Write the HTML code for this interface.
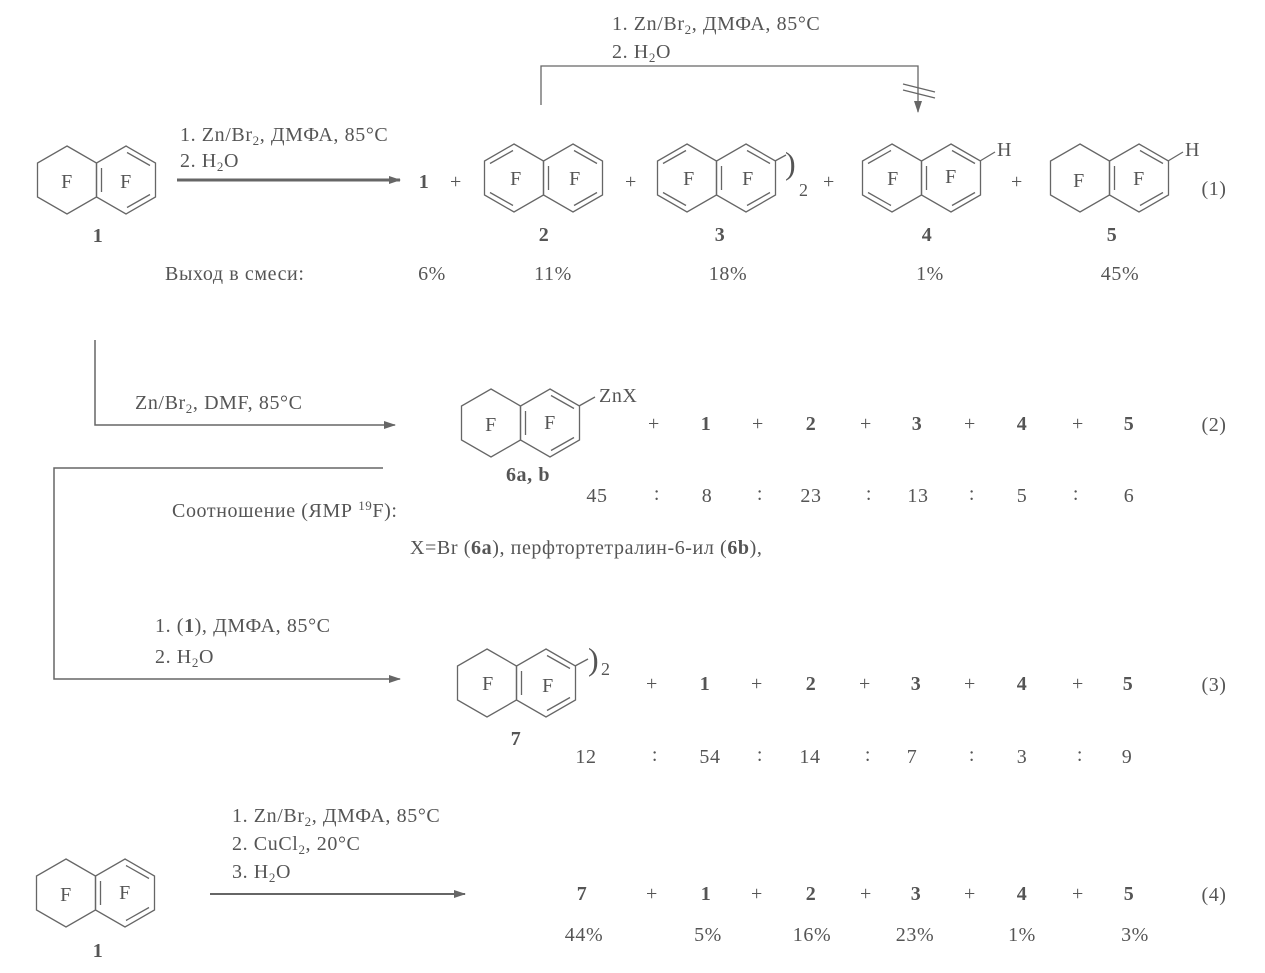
<!DOCTYPE html>
<html><head><meta charset="utf-8"><style>
html,body{margin:0;padding:0;background:#fff;}
svg{display:block;}
text{font-family:"Liberation Serif",serif;fill:#555;font-size:20px;letter-spacing:0.6px;}
.b{font-weight:bold;}
.m{text-anchor:middle;}
</style></head><body>
<svg width="1265" height="973" viewBox="0 0 1265 973" xmlns="http://www.w3.org/2000/svg">
<defs>
<polygon id="hx" points="0,-34 29.5,-17 29.5,17 0,34 -29.5,17 -29.5,-17" fill="none" stroke="#666" stroke-width="1.3"/>
<g id="T">
<use href="#hx"/><use href="#hx" x="59"/>
<g stroke="#666" stroke-width="1.3">
<line x1="34.5" y1="-12" x2="34.5" y2="12"/>
<line x1="60" y1="-27.5" x2="83" y2="-14.5"/>
<line x1="60" y1="27.5" x2="83" y2="14.5"/>
</g>
</g>
<g id="N">
<use href="#T"/>
<g stroke="#666" stroke-width="1.3">
<line x1="-1" y1="-27.5" x2="-24" y2="-14.5"/>
<line x1="-1" y1="27.5" x2="-24" y2="14.5"/>
</g>
</g>
<marker id="ah" markerWidth="12" markerHeight="8" refX="11" refY="4" orient="auto" markerUnits="userSpaceOnUse">
<path d="M0,0 L12,4 L0,8 Z" fill="#666"/>
</marker>
</defs>

<!-- Row 1 -->
<use href="#T" x="67" y="180"/>
<text x="67" y="188" class="m">F</text><text x="126" y="188" class="m">F</text>
<text x="98" y="242" class="m b">1</text>
<line x1="177" y1="180" x2="400" y2="180" stroke="#666" stroke-width="3" marker-end="url(#ah)"/>
<text x="180" y="141">1. Zn/Br<tspan font-size="13" dy="4">2</tspan><tspan dy="-4">, ДМФА, 85°C</tspan></text>
<text x="180" y="167">2. H<tspan font-size="13" dy="4">2</tspan><tspan dy="-4">O</tspan></text>
<text x="424" y="188" class="m b">1</text>
<text x="456" y="188" class="m">+</text>

<use href="#N" x="514" y="178"/>
<text x="516" y="185" class="m">F</text><text x="575" y="185" class="m">F</text>
<text x="544" y="241" class="m b">2</text>
<text x="631" y="188" class="m">+</text>

<use href="#N" x="687" y="178"/>
<text x="689" y="185" class="m">F</text><text x="748" y="185" class="m">F</text>
<line x1="775" y1="161" x2="786" y2="155" stroke="#666" stroke-width="1.3"/>
<text x="785" y="174" style="font-size:32px">)</text><text x="799" y="196" style="font-size:18px">2</text>
<text x="720" y="241" class="m b">3</text>
<text x="829" y="188" class="m">+</text>

<use href="#N" x="892" y="178"/>
<text x="893" y="185" class="m">F</text><text x="951" y="183" class="m">F</text>
<line x1="980" y1="161" x2="995" y2="152" stroke="#666" stroke-width="1.3"/>
<text x="997" y="156">H</text>
<text x="927" y="241" class="m b">4</text>
<text x="1017" y="188" class="m">+</text>

<use href="#T" x="1080" y="178"/>
<text x="1079" y="187" class="m">F</text><text x="1139" y="185" class="m">F</text>
<line x1="1168" y1="161" x2="1183" y2="152" stroke="#666" stroke-width="1.3"/>
<text x="1185" y="156">H</text>
<text x="1112" y="241" class="m b">5</text>
<text x="1214" y="195" class="m">(1)</text>

<text x="165" y="280">Выход в смеси:</text>
<text x="432" y="280" class="m">6%</text>
<text x="553" y="280" class="m">11%</text>
<text x="728" y="280" class="m">18%</text>
<text x="930" y="280" class="m">1%</text>
<text x="1120" y="280" class="m">45%</text>

<polyline points="541,105 541,66 918,66 918,112" fill="none" stroke="#666" stroke-width="1.3" marker-end="url(#ah)"/>
<line x1="903" y1="84" x2="935" y2="92" stroke="#666" stroke-width="1.3"/>
<line x1="903" y1="90" x2="935" y2="98" stroke="#666" stroke-width="1.3"/>
<text x="612" y="30">1. Zn/Br<tspan font-size="13" dy="4">2</tspan><tspan dy="-4">, ДМФА, 85°C</tspan></text>
<text x="612" y="58">2. H<tspan font-size="13" dy="4">2</tspan><tspan dy="-4">O</tspan></text>

<!-- Row 2 -->
<polyline points="95,340 95,425 395,425" fill="none" stroke="#666" stroke-width="1.5" marker-end="url(#ah)"/>
<text x="135" y="409">Zn/Br<tspan font-size="13" dy="4">2</tspan><tspan dy="-4">, DMF, 85°C</tspan></text>
<use href="#T" x="491" y="423"/>
<text x="491" y="431" class="m">F</text><text x="550" y="429" class="m">F</text>
<line x1="579" y1="406" x2="595" y2="397" stroke="#666" stroke-width="1.3"/>
<text x="599" y="402">ZnX</text>
<text x="528" y="481" class="m b">6a, b</text>
<text x="654" y="430" class="m">+</text><text x="706" y="430" class="m b">1</text>
<text x="758" y="430" class="m">+</text><text x="811" y="430" class="m b">2</text>
<text x="866" y="430" class="m">+</text><text x="917" y="430" class="m b">3</text>
<text x="970" y="430" class="m">+</text><text x="1022" y="430" class="m b">4</text>
<text x="1078" y="430" class="m">+</text><text x="1129" y="430" class="m b">5</text>
<text x="1214" y="431" class="m">(2)</text>
<text x="597" y="502" class="m">45</text><text x="657" y="500" class="m">:</text>
<text x="707" y="502" class="m">8</text><text x="760" y="500" class="m">:</text>
<text x="811" y="502" class="m">23</text><text x="869" y="500" class="m">:</text>
<text x="918" y="502" class="m">13</text><text x="972" y="500" class="m">:</text>
<text x="1022" y="502" class="m">5</text><text x="1076" y="500" class="m">:</text>
<text x="1129" y="502" class="m">6</text>
<text x="172" y="517">Соотношение (ЯМР <tspan font-size="13" dy="-7">19</tspan><tspan dy="7">F):</tspan></text>
<text x="410" y="554">X=Br (<tspan class="b">6a</tspan>), перфтортетралин-6-ил (<tspan class="b">6b</tspan>),</text>

<!-- Row 3 -->
<polyline points="383,468 54,468 54,679 400,679" fill="none" stroke="#666" stroke-width="1.5" marker-end="url(#ah)"/>
<text x="155" y="632">1. (<tspan class="b">1</tspan>), ДМФА, 85°C</text>
<text x="155" y="663">2. H<tspan font-size="13" dy="4">2</tspan><tspan dy="-4">O</tspan></text>
<use href="#T" x="487" y="683"/>
<text x="488" y="690" class="m">F</text><text x="548" y="692" class="m">F</text>
<line x1="575" y1="666" x2="588" y2="659" stroke="#666" stroke-width="1.3"/>
<text x="588" y="670" style="font-size:32px">)</text><text x="601" y="675" style="font-size:18px">2</text>
<text x="516" y="745" class="m b">7</text>
<text x="652" y="690" class="m">+</text><text x="705" y="690" class="m b">1</text>
<text x="757" y="690" class="m">+</text><text x="811" y="690" class="m b">2</text>
<text x="865" y="690" class="m">+</text><text x="916" y="690" class="m b">3</text>
<text x="970" y="690" class="m">+</text><text x="1022" y="690" class="m b">4</text>
<text x="1078" y="690" class="m">+</text><text x="1128" y="690" class="m b">5</text>
<text x="1214" y="691" class="m">(3)</text>
<text x="586" y="763" class="m">12</text><text x="655" y="761" class="m">:</text>
<text x="710" y="763" class="m">54</text><text x="760" y="761" class="m">:</text>
<text x="810" y="763" class="m">14</text><text x="868" y="761" class="m">:</text>
<text x="912" y="763" class="m">7</text><text x="972" y="761" class="m">:</text>
<text x="1022" y="763" class="m">3</text><text x="1080" y="761" class="m">:</text>
<text x="1127" y="763" class="m">9</text>

<!-- Row 4 -->
<use href="#T" x="66" y="893"/>
<text x="66" y="901" class="m">F</text><text x="125" y="899" class="m">F</text>
<text x="98" y="957" class="m b">1</text>
<line x1="210" y1="894" x2="465" y2="894" stroke="#666" stroke-width="2" marker-end="url(#ah)"/>
<text x="232" y="822">1. Zn/Br<tspan font-size="13" dy="4">2</tspan><tspan dy="-4">, ДМФА, 85°C</tspan></text>
<text x="232" y="850">2. CuCl<tspan font-size="13" dy="4">2</tspan><tspan dy="-4">, 20°C</tspan></text>
<text x="232" y="878">3. H<tspan font-size="13" dy="4">2</tspan><tspan dy="-4">O</tspan></text>
<text x="582" y="900" class="m b">7</text>
<text x="652" y="900" class="m">+</text><text x="706" y="900" class="m b">1</text>
<text x="757" y="900" class="m">+</text><text x="811" y="900" class="m b">2</text>
<text x="866" y="900" class="m">+</text><text x="916" y="900" class="m b">3</text>
<text x="970" y="900" class="m">+</text><text x="1022" y="900" class="m b">4</text>
<text x="1078" y="900" class="m">+</text><text x="1129" y="900" class="m b">5</text>
<text x="1214" y="901" class="m">(4)</text>
<text x="584" y="941" class="m">44%</text>
<text x="708" y="941" class="m">5%</text>
<text x="812" y="941" class="m">16%</text>
<text x="915" y="941" class="m">23%</text>
<text x="1022" y="941" class="m">1%</text>
<text x="1135" y="941" class="m">3%</text>
</svg>
</body></html>
